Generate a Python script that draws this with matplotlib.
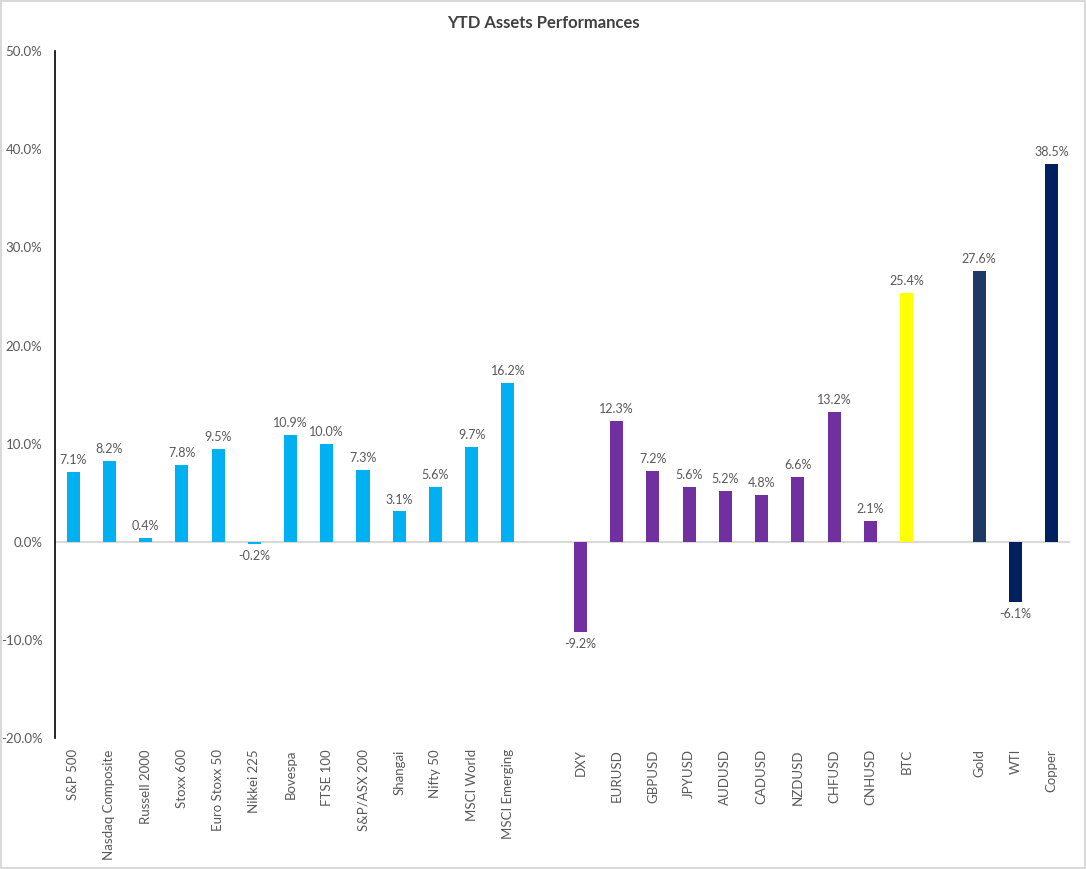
import matplotlib
matplotlib.use("Agg")
import matplotlib.pyplot as plt
import numpy as np

plt.rcParams['font.family'] = ['Lato', 'DejaVu Sans']

equities = ["S&P 500", "Nasdaq Composite", "Russell 2000", "Stoxx 600", "Euro Stoxx 50",
            "Nikkei 225", "Bovespa", "FTSE 100", "S&P/ASX 200", "Shangai", "Nifty 50",
            "MSCI World", "MSCI Emerging"]
equity_vals = [7.1, 8.2, 0.4, 7.8, 9.5, -0.2, 10.9, 10.0, 7.3, 3.1, 5.6, 9.7, 16.2]

fx = ["DXY", "EURUSD", "GBPUSD", "JPYUSD", "AUDUSD", "CADUSD", "NZDUSD", "CHFUSD", "CNHUSD"]
fx_vals = [-9.2, 12.3, 7.2, 5.6, 5.2, 4.8, 6.6, 13.2, 2.1]

crypto = ["BTC"]
crypto_vals = [25.4]

commods = ["Gold", "WTI", "Copper"]
commod_vals = [27.6, -6.1, 38.5]

# group colours
c_eq = "#00B0F0"
c_fx = "#7030A0"
c_btc = "#FFFF00"
c_com = ["#1F3864", "#002060", "#002060"]

# build slot layout with blank gaps between groups
labels = equities + [""] + fx + crypto + [""] + commods
vals = equity_vals + [np.nan] + fx_vals + crypto_vals + [np.nan] + commod_vals
colors = [c_eq] * len(equities) + ["none"] + [c_fx] * len(fx) + [c_btc] + ["none"] + c_com

x = np.arange(len(labels))

fig = plt.figure(figsize=(10.86, 8.69), dpi=100)
ax = fig.add_axes([0.0506, 0.1507, 0.9344, 0.7903])

mask = ~np.isnan(vals)
vals = np.array(vals)
ax.bar(x[mask], vals[mask], width=0.36, color=np.array(colors)[mask], zorder=3)

for xi, v in zip(x[mask], vals[mask]):
    off = 0.6 if v >= 0 else -0.6
    ax.text(xi, v + off, f"{v:.1f}%", ha="center", va="bottom" if v >= 0 else "top",
            fontsize=9, color="#595959")

ax.set_xlim(-0.5, len(labels) - 0.5)
ax.set_ylim(-20, 50)
ax.set_yticks(np.arange(-20, 51, 10))
ax.set_yticklabels([f"{t:.1f}%" for t in np.arange(-20, 51, 10)], fontsize=9.5, color="#595959")
ax.set_xticks(x[mask])
ax.set_xticklabels(np.array(labels)[mask], rotation=90, fontsize=9.5, color="#595959")
ax.tick_params(axis="y", length=0, pad=9)
ax.tick_params(axis="x", length=0, pad=8)

for s in ["top", "right", "bottom"]:
    ax.spines[s].set_visible(False)
ax.spines["left"].set_color("black")
ax.spines["left"].set_linewidth(1.2)
ax.axhline(0, color="#D9D9D9", lw=1.5, zorder=2)

fig.text(0.5, 0.973, "YTD Assets Performances", ha="center", va="center",
         fontsize=12, fontweight="bold", color="#404040")

# light frame around the chart
fig.patches.append(plt.Rectangle((0.001, 0.001), 0.998, 0.998, transform=fig.transFigure,
                                 fill=False, edgecolor="#D9D9D9", lw=1.5))

fig.savefig("out.png", dpi=100)
